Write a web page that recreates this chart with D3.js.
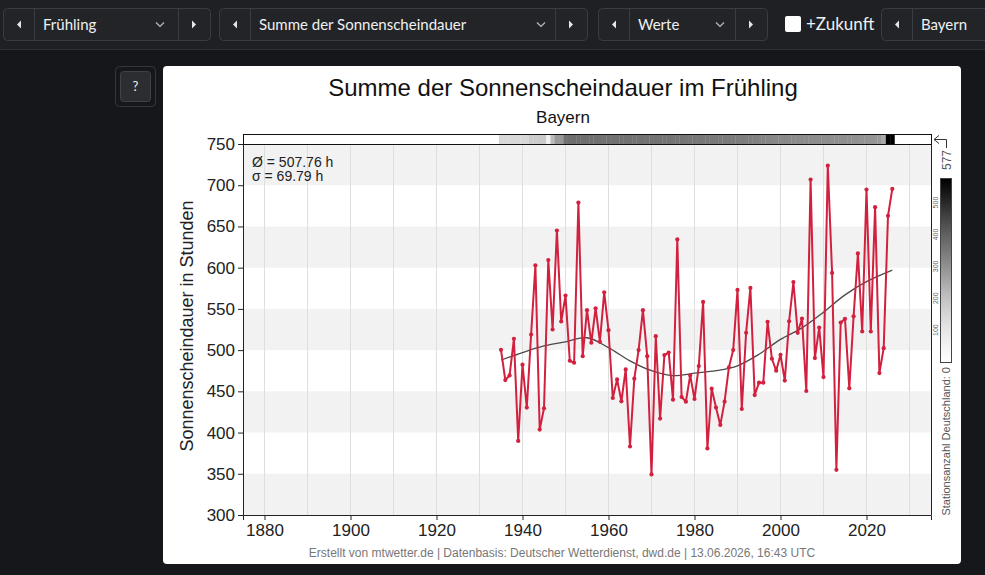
<!DOCTYPE html>
<html>
<head>
<meta charset="utf-8">
<script src="https://cdn.jsdelivr.net/npm/d3@7"></script>
<style>
  html, body { margin: 0; padding: 0; background: #16171a; }
  svg { display: block; }
</style>
</head>
<body>
<div id="chart"></div>
<script>
// data
const years = d3.range(1935, 2027);
const sunHours = [
  500.4, 463.7, 469.3, 513.7, 389.9, 482.3, 430.3, 518.9, 602.8, 403.6,
  429.4, 609.3, 525.0, 645.1, 534.7, 566.1, 487.1, 484.7, 679.0, 492.7,
  548.4, 508.9, 550.8, 510.1, 570.1, 524.2, 441.9, 464.5, 437.9, 476.6,
  383.1, 465.4, 500.0, 548.4, 492.7, 349.2, 516.9, 417.0, 494.0, 497.0,
  439.9, 634.3, 443.1, 437.5, 469.3, 440.7, 480.6, 558.5, 380.7, 453.2,
  430.3, 409.3, 437.5, 479.0, 500.0, 573.0, 428.6, 521.0, 575.4, 445.5,
  460.5, 460.5, 534.3, 489.5, 475.0, 494.4, 463.0, 535.0, 582.6, 521.0,
  538.3, 450.4, 706.8, 490.3, 527.4, 467.3, 723.7, 593.6, 354.8, 533.5,
  537.9, 453.6, 541.0, 617.3, 522.6, 694.7, 522.6, 673.4, 472.2, 502.4,
  662.9, 695.5
];

// smoothed trend
const trendYears = [1935, 1940, 1945, 1950, 1955, 1960, 1965, 1970, 1975, 1980, 1985, 1990, 1995, 2000, 2005, 2010, 2015, 2020, 2026];
const trendValues = [488, 497, 505, 510, 515, 503, 487, 475, 469, 472, 475, 481, 495, 513, 527, 546, 567, 583, 597];

// number of stations (Germany) per year, top strip
const stationCounts = [
  144, 144, 145, 145, 146, 146, 148, 178, 180, 182,
  182, 70, 216, 283, 285, 365, 370, 372, 372, 372,
  370, 370, 370, 368, 368, 368, 366, 366, 366, 365,
  365, 364, 364, 363, 363, 362, 362, 361, 360, 360,
  360, 358, 358, 356, 356, 352, 350, 350, 350, 348,
  348, 346, 346, 345, 344, 342, 340, 338, 336, 334,
  330, 326, 322, 320, 318, 316, 315, 314, 313, 312,
  312, 311, 310, 310, 309, 308, 307, 306, 305, 304,
  303, 302, 300, 300, 298, 296, 294, 290, 283, 254,
  577, 577
];
const stationMax = 577;

const yTicks = [300, 350, 400, 450, 500, 550, 600, 650, 700, 750];
const xTicks = [1880, 1900, 1920, 1940, 1960, 1980, 2000, 2020];
const gridYears = [1880, 1890, 1900, 1910, 1920, 1930, 1940, 1950, 1960, 1970, 1980, 1990, 2000, 2010, 2020, 2030];
const legendTicks = [100, 200, 300, 400, 500];

const meanText = 'Ø = 507.76 h';
const sdText = 'σ = 69.79 h';

const W = 985, H = 575;
const svg = d3.select('#chart')
    .append('svg')
    .attr('width', W)
    .attr('height', H)
    .style('font-family', 'Liberation Sans, Arial, sans-serif');

// page background
svg.append('rect').attr('width', W).attr('height', H).attr('fill', '#16171a');

// top toolbar
svg.append('rect').attr('width', W).attr('height', 49).attr('fill', '#1e2024');
svg.append('line').attr('x1', 0).attr('x2', W).attr('y1', 49.5).attr('y2', 49.5).attr('stroke', '#2f3135');

const controls = [
  {x: 3, w: 207, label: 'Frühling', chev: 160},
  {x: 219, w: 368, label: 'Summe der Sonnenscheindauer', chev: 541},
  {x: 598, w: 169, label: 'Werte', chev: 720},
  {x: 881, w: 120, label: 'Bayern', chev: null}
];
const bar = svg.append('g').style('font-family', 'Lato, sans-serif');
controls.forEach(c => {
    const g = bar.append('g');
    g.append('rect')
        .attr('x', c.x + 0.5).attr('y', 8.5)
        .attr('width', c.w).attr('height', 32)
        .attr('rx', 4)
        .attr('fill', '#222428').attr('stroke', '#3a3c41');
    g.append('line')
        .attr('x1', c.x + 31.5).attr('x2', c.x + 31.5)
        .attr('y1', 9).attr('y2', 40).attr('stroke', '#3a3c41');
    g.append('path')
        .attr('d', `M${c.x + 18},20.5 L${c.x + 14},24.5 L${c.x + 18},28.5 Z`)
        .attr('fill', '#e6e6e6');
    g.append('text')
        .attr('x', c.x + 40).attr('y', 29.5)
        .attr('fill', '#f0f0f0').attr('font-size', 15)
        .text(c.label);
    if (c.chev) {
        g.append('path')
            .attr('d', `M${c.chev - 4},22.5 L${c.chev},26.5 L${c.chev + 4},22.5`)
            .attr('fill', 'none').attr('stroke', '#bbb').attr('stroke-width', 1.2);
        const rx = c.x + c.w - 32;
        g.append('line')
            .attr('x1', rx + 0.5).attr('x2', rx + 0.5)
            .attr('y1', 9).attr('y2', 40).attr('stroke', '#3a3c41');
        g.append('path')
            .attr('d', `M${rx + 14},20.5 L${rx + 18},24.5 L${rx + 14},28.5 Z`)
            .attr('fill', '#e6e6e6');
    }
});
bar.append('rect')
    .attr('x', 785).attr('y', 16).attr('width', 16).attr('height', 16)
    .attr('rx', 2).attr('fill', '#fff');
bar.append('text')
    .attr('x', 806).attr('y', 30)
    .attr('fill', '#f0f0f0').attr('font-size', 17)
    .text('+Zukunft');

// help button
svg.append('rect')
    .attr('x', 115.5).attr('y', 66.5).attr('width', 40).attr('height', 40)
    .attr('rx', 4).attr('fill', 'none').attr('stroke', '#34363b');
svg.append('rect')
    .attr('x', 120.5).attr('y', 71.5).attr('width', 30).attr('height', 30)
    .attr('rx', 3).attr('fill', '#2b2d31').attr('stroke', '#404246');
svg.append('text')
    .attr('x', 135.5).attr('y', 91)
    .attr('text-anchor', 'middle')
    .attr('fill', '#f0f0f0').attr('font-size', 13)
    .style('font-family', 'Lato, sans-serif')
    .text('?');

// card
svg.append('rect')
    .attr('x', 163).attr('y', 66).attr('width', 798).attr('height', 498)
    .attr('rx', 4).attr('fill', '#fff');

// plot
const plot = {left: 243, right: 931, top: 144, bottom: 515};
const x = d3.scaleLinear().domain([1875, 2035]).range([plot.left, plot.right]);
const y = d3.scaleLinear().domain([300, 750]).range([plot.bottom, plot.top]);

// horizontal bands
svg.append('g').selectAll('rect')
    .data(yTicks.slice(0, -1).filter((d, i) => i % 2 === 0))
    .join('rect')
    .attr('x', plot.left).attr('width', plot.right - plot.left)
    .attr('y', d => y(d + 50)).attr('height', d => y(d) - y(d + 50))
    .attr('fill', '#f2f2f2');

// vertical grid
svg.append('g').selectAll('line')
    .data(gridYears)
    .join('line')
    .attr('x1', d => x(d)).attr('x2', d => x(d))
    .attr('y1', plot.top).attr('y2', plot.bottom)
    .attr('stroke', '#dedede').attr('stroke-width', 1);

// frame (top/right)
svg.append('path')
    .attr('d', `M${plot.left},${plot.top + 0.5} H${plot.right + 0.5} V${plot.bottom}`)
    .attr('fill', 'none').attr('stroke', '#222');

// axes
const yAxis = d3.axisLeft(y).tickValues(yTicks).tickSize(5).tickPadding(3);
const xAxis = d3.axisBottom(x).tickValues(xTicks).tickFormat(d3.format('d')).tickSize(5).tickPadding(4);

svg.append('g')
    .attr('class', 'axis y-axis')
    .attr('transform', `translate(${plot.left},0)`)
    .call(yAxis)
    .call(g => g.selectAll('text').attr('font-size', 17).attr('fill', '#222').attr('font-family', 'Liberation Sans, Arial, sans-serif'))
    .call(g => g.selectAll('line, path').attr('stroke', '#222'));

svg.append('g')
    .attr('class', 'axis x-axis')
    .attr('transform', `translate(0,${plot.bottom})`)
    .call(xAxis)
    .call(g => g.selectAll('text').attr('font-size', 17).attr('fill', '#222').attr('font-family', 'Liberation Sans, Arial, sans-serif'))
    .call(g => g.selectAll('line, path').attr('stroke', '#222'));

// station strip
const grey = d3.scaleSequential(d3.interpolateGreys).domain([0, stationMax]);
const strip = {top: 134, bottom: 144};
svg.append('rect')
    .attr('x', plot.left).attr('y', strip.top)
    .attr('width', plot.right - plot.left).attr('height', strip.bottom - strip.top)
    .attr('fill', '#fff');
svg.append('g').selectAll('rect')
    .data(years)
    .join('rect')
    .attr('x', d => x(d - 0.5))
    .attr('width', d => x(d + 0.5) - x(d - 0.5) + 0.3)
    .attr('y', strip.top).attr('height', strip.bottom - strip.top)
    .attr('fill', (d, i) => grey(stationCounts[i]));
svg.append('rect')
    .attr('x', plot.left + 0.5).attr('y', strip.top + 0.5)
    .attr('width', plot.right - plot.left).attr('height', strip.bottom - strip.top)
    .attr('fill', 'none').attr('stroke', '#111');

// arrow from strip to legend
svg.append('path')
    .attr('d', `M${plot.right + 8},135.5 L${plot.right + 3},139.5 L${plot.right + 8},143.5 M${plot.right + 3},139.5 H946.5 V148`)
    .attr('fill', 'none').attr('stroke', '#333').attr('stroke-width', 1);

// station legend
const legend = {x: 940, w: 11, top: 178, bottom: 362};
const ly = d3.scaleLinear().domain([0, stationMax]).range([legend.bottom, legend.top]);
const grad = svg.append('defs').append('linearGradient')
    .attr('id', 'greys').attr('x1', 0).attr('x2', 0).attr('y1', 1).attr('y2', 0);
d3.range(0, 1.01, 0.1).forEach(t => {
    grad.append('stop').attr('offset', t).attr('stop-color', grey(t * stationMax));
});
svg.append('rect')
    .attr('x', legend.x + 0.5).attr('y', legend.top + 0.5)
    .attr('width', legend.w).attr('height', legend.bottom - legend.top)
    .attr('fill', 'url(#greys)').attr('stroke', '#444');
svg.append('g').selectAll('text')
    .data(legendTicks)
    .join('text')
    .attr('transform', d => `translate(938,${ly(d)}) rotate(-90)`)
    .attr('text-anchor', 'middle')
    .attr('font-size', 7).attr('fill', '#666')
    .text(d => d);
svg.append('text')
    .attr('transform', 'translate(950.5,150) rotate(-90)')
    .attr('text-anchor', 'end')
    .attr('font-size', 12).attr('fill', '#555')
    .text(stationMax);
svg.append('text')
    .attr('transform', `translate(950,${legend.bottom + 5}) rotate(-90)`)
    .attr('text-anchor', 'end')
    .attr('font-size', 11).attr('fill', '#555')
    .text('Stationsanzahl Deutschland: 0');

// trend
const trend = d3.line()
    .x((d, i) => x(trendYears[i]))
    .y(d => y(d))
    .curve(d3.curveCatmullRom);
svg.append('path')
    .datum(trendValues)
    .attr('d', trend)
    .attr('fill', 'none').attr('stroke', '#4a4a4a').attr('stroke-width', 1.3);

// series
const red = '#d2203f';
const line = d3.line()
    .x((d, i) => x(years[i]))
    .y(d => y(d));
svg.append('path')
    .datum(sunHours)
    .attr('d', line)
    .attr('fill', 'none').attr('stroke', red)
    .attr('stroke-width', 2).attr('stroke-linejoin', 'round');
svg.append('g').selectAll('circle')
    .data(sunHours)
    .join('circle')
    .attr('cx', (d, i) => x(years[i]))
    .attr('cy', d => y(d))
    .attr('r', 2.1)
    .attr('fill', red);

// stats
svg.append('text').attr('x', 252).attr('y', 166.5)
    .attr('font-size', 14).attr('fill', '#222').text(meanText);
svg.append('text').attr('x', 252).attr('y', 181)
    .attr('font-size', 14).attr('fill', '#222').text(sdText);

// titles
svg.append('text')
    .attr('x', 563).attr('y', 96)
    .attr('text-anchor', 'middle')
    .attr('font-size', 24).attr('fill', '#111')
    .text('Summe der Sonnenscheindauer im Frühling');
svg.append('text')
    .attr('x', 563).attr('y', 123)
    .attr('text-anchor', 'middle')
    .attr('font-size', 17).attr('fill', '#111')
    .text('Bayern');
svg.append('text')
    .attr('transform', 'translate(193,326) rotate(-90)')
    .attr('text-anchor', 'middle')
    .attr('font-size', 18).attr('fill', '#222')
    .text('Sonnenscheindauer in Stunden');
svg.append('text')
    .attr('x', 562).attr('y', 557)
    .attr('text-anchor', 'middle')
    .attr('font-size', 12).attr('fill', '#777')
    .text('Erstellt von mtwetter.de | Datenbasis: Deutscher Wetterdienst, dwd.de | 13.06.2026, 16:43 UTC');
</script>
</body>
</html>
